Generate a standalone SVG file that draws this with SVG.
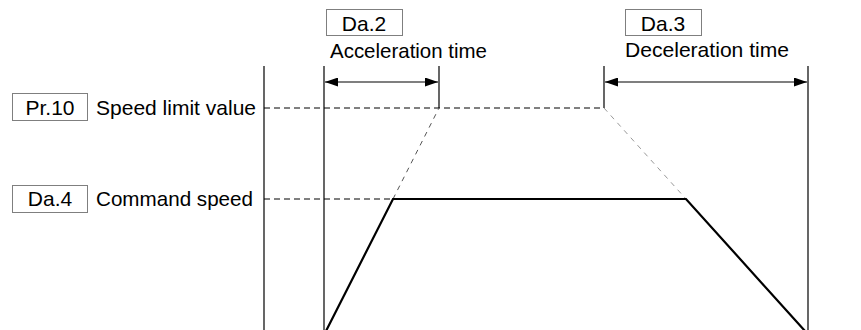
<svg xmlns="http://www.w3.org/2000/svg" width="861" height="330" viewBox="0 0 861 330">
<style>
text{font-family:"Liberation Sans",Arial,sans-serif;font-size:21px;fill:#000}
.box{fill:#fff;stroke:#7f7f7f;stroke-width:1}
.v{stroke:#000;stroke-width:1.2;fill:none}
.dash{stroke:#000;stroke-width:1;stroke-dasharray:6,4;fill:none}
.ext{stroke:#555;stroke-width:1;stroke-dasharray:5,5;fill:none}
.prof{stroke:#000;stroke-width:2.2;fill:none;stroke-linejoin:miter}
</style>
<defs>
<marker id="ah" viewBox="0 0 13 9" refX="13" refY="4.5" markerWidth="13" markerHeight="9" markerUnits="userSpaceOnUse" orient="auto-start-reverse">
<path d="M0,0 L13,4.5 L0,9 Z" fill="#000"/>
</marker>
</defs>
<g id="connectors">
<line class="v" x1="264" y1="66" x2="264" y2="330"/>
<line class="v" x1="324" y1="66" x2="324" y2="330"/>
<line class="v" x1="439" y1="66" x2="439" y2="108"/>
<line class="v" x1="604" y1="66" x2="604" y2="108"/>
<line class="v" x1="808" y1="66" x2="808" y2="330"/>
<line class="v" x1="325" y1="82" x2="438" y2="82" marker-start="url(#ah)" marker-end="url(#ah)"/>
<line class="v" x1="605" y1="82" x2="807" y2="82" marker-start="url(#ah)" marker-end="url(#ah)"/>
<line class="dash" x1="264" y1="108" x2="604" y2="108"/>
<line class="dash" x1="264" y1="199" x2="393" y2="199"/>
<line class="ext" x1="393" y1="199" x2="439" y2="108"/>
<line class="ext" x1="604" y1="108" x2="686" y2="199" style="stroke:#999"/>
<polyline class="prof" points="326,331 393,199 686,199 805,331"/>
</g>
<g id="da2">
<rect class="box" x="326.5" y="9.5" width="76" height="26"/>
<text x="364" y="31" text-anchor="middle">Da.2</text>
<text x="330" y="58" textLength="157" lengthAdjust="spacingAndGlyphs">Acceleration time</text>
</g>
<g id="da3">
<rect class="box" x="625.5" y="9.5" width="76" height="26"/>
<text x="663" y="31" text-anchor="middle">Da.3</text>
<text x="625" y="57" textLength="164" lengthAdjust="spacingAndGlyphs">Deceleration time</text>
</g>
<g id="pr10">
<rect class="box" x="12.5" y="93.5" width="75" height="27"/>
<text x="50" y="115" text-anchor="middle">Pr.10</text>
<text x="96" y="115" textLength="160" lengthAdjust="spacingAndGlyphs">Speed limit value</text>
</g>
<g id="da4">
<rect class="box" x="12.5" y="185.5" width="75" height="27"/>
<text x="50" y="206" text-anchor="middle">Da.4</text>
<text x="96" y="206" textLength="157" lengthAdjust="spacingAndGlyphs">Command speed</text>
</g>
</svg>
